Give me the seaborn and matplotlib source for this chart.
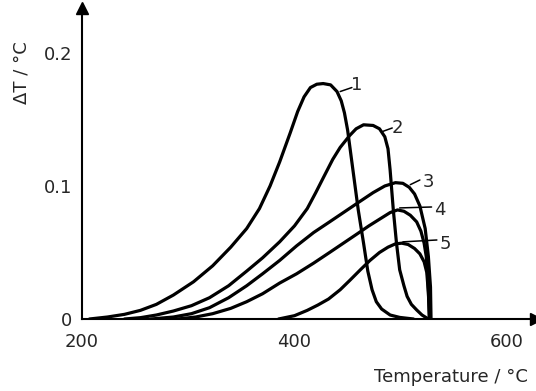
import numpy as np
import pandas as pd
import seaborn as sns
import matplotlib.pyplot as plt

# curve data (temperature in degC, delta T in degC)
t1 = [207, 224, 240, 255, 270, 286, 305, 323, 340, 355, 367, 377, 386, 396, 403, 409, 415, 421, 427, 434, 440, 444, 447, 450, 455, 460, 465, 469, 473, 477, 482, 490, 499, 512]
d1 = [0.0, 0.0015, 0.0035, 0.0065, 0.011, 0.018, 0.028, 0.040, 0.054, 0.068, 0.083, 0.100, 0.118, 0.140, 0.156, 0.167, 0.174, 0.1765, 0.177, 0.176, 0.171, 0.164, 0.155, 0.142, 0.112, 0.082, 0.057, 0.036, 0.022, 0.013, 0.0075, 0.003, 0.0012, 0.0]

t2 = [240, 255, 270, 286, 303, 320, 338, 355, 370, 386, 400, 412, 420, 427, 436, 443, 452, 458, 465, 474, 480, 485, 488, 490, 493, 496, 499, 503, 506, 510, 515, 520, 526]
d2 = [0.0, 0.001, 0.003, 0.006, 0.010, 0.016, 0.025, 0.036, 0.046, 0.058, 0.070, 0.083, 0.095, 0.106, 0.120, 0.129, 0.138, 0.143, 0.146, 0.1455, 0.143, 0.137, 0.128, 0.112, 0.082, 0.057, 0.037, 0.025, 0.017, 0.011, 0.0068, 0.003, 0.0]

t3 = [265, 286, 303, 320, 338, 355, 370, 386, 402, 418, 433, 446, 459, 474, 485, 495, 502, 508, 513, 518, 523, 526, 528, 528.5]
d3 = [0.0, 0.0015, 0.004, 0.0085, 0.016, 0.025, 0.034, 0.044, 0.055, 0.065, 0.073, 0.080, 0.087, 0.095, 0.100, 0.1025, 0.102, 0.099, 0.094, 0.085, 0.068, 0.047, 0.024, 0.0]

t4 = [290, 307, 323, 340, 355, 370, 386, 402, 418, 433, 446, 459, 470, 482, 490, 497, 503, 509, 515, 519, 522, 524, 525.5, 526.5, 527]
d4 = [0.0, 0.0015, 0.004, 0.008, 0.013, 0.019, 0.027, 0.034, 0.042, 0.050, 0.057, 0.064, 0.070, 0.076, 0.080, 0.082, 0.081, 0.078, 0.073, 0.066, 0.057, 0.047, 0.030, 0.012, 0.0]

t5 = [385, 400, 412, 422, 432, 443, 452, 462, 471, 480, 488, 495, 501, 507, 513, 518, 522, 524.5, 526, 527]
d5 = [0.0, 0.0025, 0.0065, 0.0105, 0.015, 0.022, 0.029, 0.037, 0.044, 0.050, 0.054, 0.0565, 0.057, 0.056, 0.053, 0.049, 0.043, 0.035, 0.020, 0.0]

labels = ['1', '2', '3', '4', '5']

frames = []
for lab, t, d in zip(labels, [t1, t2, t3, t4, t5], [d1, d2, d3, d4, d5]):
    frames.append(pd.DataFrame({'T': t, 'dT': d, 'curve': lab}))
df = pd.concat(frames, ignore_index=True)

# leader lines from the curve to the number
lead_from = [(443, 0.171), (483, 0.141), (509, 0.101), (499, 0.0835), (502, 0.058)]
lead_to = [(454, 0.174), (492, 0.1436), (518, 0.1045), (529, 0.0842), (534, 0.0594)]
lab_pos = [(459, 0.176), (497, 0.1436), (526, 0.103), (537, 0.082), (542, 0.0564)]

# styling
sns.set_style('white')
plt.rcParams['font.family'] = ['DejaVu Sans']

fig = plt.figure(figsize=(5.36, 3.91), dpi=100)
ax = fig.add_axes([82 / 536, 72 / 391, 454 / 536, 311 / 391])

sns.lineplot(data=df, x='T', y='dT', hue='curve', units='curve', estimator=None,
             sort=False, palette=['black'] * 5, linewidth=2.3, legend=False, ax=ax)

for (x0, y0), (x1, y1), (xt, yt), lab in zip(lead_from, lead_to, lab_pos, labels):
    ax.plot([x0, x1], [y0, y1], color='black', linewidth=1.1)
    ax.text(xt, yt, lab, fontsize=13, ha='center', va='center')

ax.set_xlim(200, 627.3)
ax.set_ylim(0, 0.2338)
ax.set_xticks([200, 400, 600])
ax.set_xticklabels(['200', '400', '600'])
ax.set_yticks([0, 0.1, 0.2])
ax.set_yticklabels(['0', '0.1', '0.2'])
ax.tick_params(axis='x', direction='in', length=8.5, width=1.2, pad=10, labelsize=13)
ax.tick_params(axis='y', direction='in', length=11, width=1.2, pad=7, labelsize=13)
ax.set_xlabel('')
ax.set_ylabel('')

for s in ['top', 'right']:
    ax.spines[s].set_visible(False)
for s in ['left', 'bottom']:
    ax.spines[s].set_linewidth(1.5)
    ax.spines[s].set_color('black')

# arrow heads on the axes
ax.plot(1, 0, '>', color='black', markersize=9, transform=ax.transAxes, clip_on=False)
ax.plot(0, 1, '^', color='black', markersize=9, transform=ax.transAxes, clip_on=False)

fig.text(22 / 536, 1 - 73 / 391, 'ΔT / °C', rotation=90, ha='center', va='center', fontsize=13)
fig.text(528 / 536, 1 - 377 / 391, 'Temperature / °C', ha='right', va='center', fontsize=13)

fig.savefig('out.png', dpi=100)
